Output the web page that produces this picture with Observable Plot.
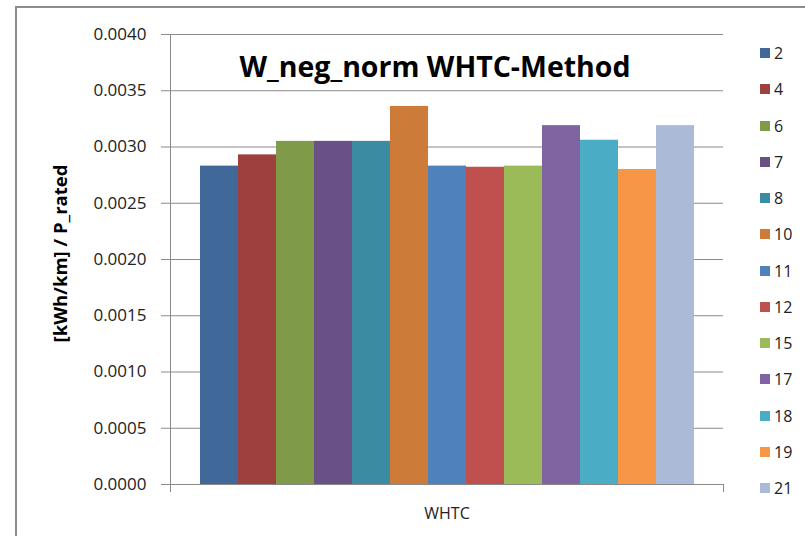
<!DOCTYPE html>
<html>
<head>
<meta charset="utf-8">
<script src="https://cdn.jsdelivr.net/npm/d3@7"></script>
<script src="https://cdn.jsdelivr.net/npm/@observablehq/plot@0.6"></script>
<style>
  html, body { margin: 0; padding: 0; background: #fff; overflow: hidden; width: 805px; height: 536px; }
  #wrap { position: relative; width: 805px; height: 536px; overflow: hidden; }
  #border { position: absolute; left: 15px; top: 6px; width: 1000px; height: 1000px; border: 2px solid #8c8c8c; box-sizing: border-box; }
  #chart { position: absolute; left: 0; top: 0; }
  #legend { position: absolute; left: 0; top: 0; font-family: "Open Sans", sans-serif; font-size: 16px; color: #222; }
  .item { position: absolute; display: flex; align-items: center; height: 20px; }
  .sw { width: 10px; height: 10px; margin-right: 4px; }
</style>
</head>
<body>
<div id="wrap">
  <div id="border"></div>
  <div id="chart"></div>
  <div id="legend"></div>
</div>
<script>
const cycle = "WHTC";
const series = ["2", "4", "6", "7", "8", "10", "11", "12", "15", "17", "18", "19", "21"];
const values = [0.00283, 0.00293, 0.00305, 0.00305, 0.00305, 0.00336, 0.00283, 0.00282, 0.00283, 0.00319, 0.00306, 0.00280, 0.00319];
const colors = ["#406898", "#9E413E", "#7F9A48", "#695185", "#3B8BA3", "#CC7B38", "#4F81BD", "#C0504D", "#9BBB59", "#8064A2", "#4BACC6", "#F79646", "#AABAD7"];
const yTicks = [0, 0.0005, 0.001, 0.0015, 0.002, 0.0025, 0.003, 0.0035, 0.004];
const title = "W_neg_norm WHTC-Method";
const yLabel = "[kWh/km] / P_rated";

const data = series.map((s, i) => ({cycle, truck: s, value: values[i]}));
const fmt = d3.format(".4f");
const grey = "#8a8a8a";

const chart = Plot.plot({
  width: 805,
  height: 536,
  marginLeft: 170,
  marginRight: 82,
  marginTop: 34,
  marginBottom: 52,
  style: {fontFamily: "Open Sans", fontSize: "17px", color: "#222", background: "transparent"},
  fx: {domain: [cycle], padding: 0, label: null, axis: null},
  x: {domain: series, paddingInner: 0, paddingOuter: 0.73, axis: null},
  y: {domain: [0, 0.004], label: null, axis: null},
  color: {domain: series, range: colors},
  marks: [
    Plot.gridY(yTicks, {stroke: grey, strokeOpacity: 1}),
    Plot.barY(data, {fx: "cycle", x: "truck", y: "value", fill: "truck"}),
    Plot.axisY(yTicks, {tickSize: 9, tickPadding: 15, tickFormat: fmt, stroke: grey, strokeOpacity: 1, fontSize: 17, label: null}),
    Plot.ruleY([0], {stroke: grey}),
    Plot.frame({anchor: "left", stroke: grey, insetBottom: -7}),
    Plot.frame({anchor: "right", stroke: grey, insetTop: 450, insetBottom: -7}),
    Plot.axisFx({anchor: "bottom", tickSize: 0, tickPadding: 23, fontSize: 16, label: null}),
    Plot.text([title], {frameAnchor: "top", dy: 22, dx: -12, fontSize: 28.5, fontWeight: "bold", fill: "#000"}),
    Plot.text([yLabel], {frameAnchor: "left", textAnchor: "middle", dx: -109, dy: -6, rotate: -90, fontSize: 18.5, fontWeight: "bold", fill: "#000"})
  ]
});
document.getElementById("chart").appendChild(chart);

const color = chart.scale("color");
const legend = document.getElementById("legend");
series.forEach((s, i) => {
  const item = document.createElement("div");
  item.className = "item";
  item.style.left = "760px";
  item.style.top = (53 + i * 36.25 - 10) + "px";
  const sw = document.createElement("div");
  sw.className = "sw";
  sw.style.background = color.range[i];
  const lab = document.createElement("span");
  lab.textContent = s;
  item.appendChild(sw);
  item.appendChild(lab);
  legend.appendChild(item);
});
</script>
</body>
</html>
